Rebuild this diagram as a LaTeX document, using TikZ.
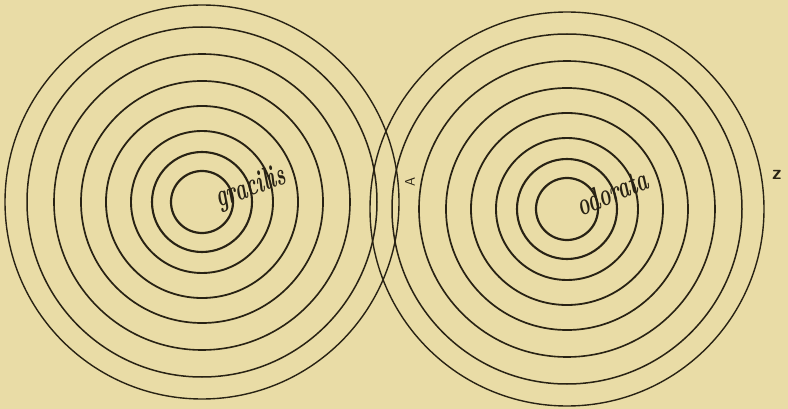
\documentclass[tikz,border=0pt]{standalone}
\usepackage{tikz}
\definecolor{paper}{RGB}{233, 220, 166}
\definecolor{ink}{RGB}{40, 34, 20}

\begin{document}
\begin{tikzpicture}[x=1pt, y=-1pt]

  \fill[paper] (0, 0) rectangle (788, 409);

  \coordinate (gcen) at (202, 202);
  \coordinate (ocen) at (567, 209);

  % rings round both centres
  \foreach \r/\w in {31/2.2, 50/2.1, 71/1.9, 96/1.8, 121/1.7, 148/1.6, 175/1.5, 197/1.4} {
    \draw[ink, line width=\w] (gcen) circle (\r);
    \draw[ink, line width=\w] (ocen) circle (\r);
  }

  \node[ink, rotate=20, inner sep=0] (gracilis) at (251, 188)
        {\scalebox{1}[1.6]{\fontsize{20}{20}\selectfont\bfseries\itshape gracilis}};
  \node[ink, rotate=22, inner sep=0] (odorata) at (612, 192)
        {\scalebox{1}[1.6]{\fontsize{20}{20}\selectfont\bfseries\itshape odorata}};

  \node[ink, rotate=90, inner sep=0] (A) at (410, 182)
        {\fontsize{14}{14}\selectfont\sffamily A};
  \node[ink, inner sep=0] (z) at (777, 175)
        {\fontsize{20}{20}\selectfont\sffamily\bfseries z};

\end{tikzpicture}
\end{document}
